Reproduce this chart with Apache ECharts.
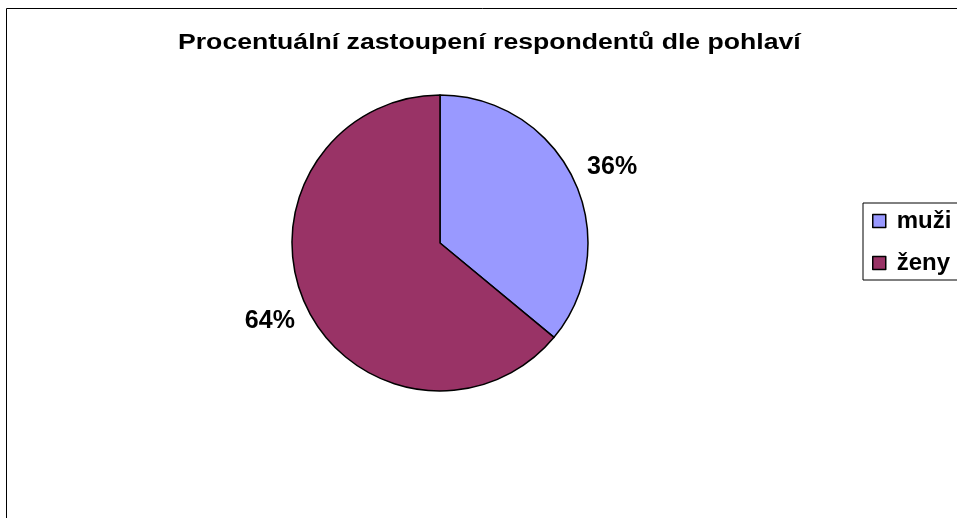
<!DOCTYPE html>
<html>
<head>
<meta charset="utf-8">
<script src="https://cdn.jsdelivr.net/npm/echarts@6/dist/echarts.min.js"></script>
<style>html,body{margin:0;padding:0;background:#fff;}#c{width:957px;height:518px;}</style>
</head>
<body>
<div id="c"></div>
<script>
const titleText = 'Procentuální zastoupení respondentů dle pohlaví';
const categories = ['muži', 'ženy'];
const values = [36, 64];
const colors = ['#9999FF', '#993366'];
const labelOffsets = [[2, 4], [0, -2]];

const FONT = 'Liberation Sans, Arial, sans-serif';
const data = categories.map((n, i) => ({ name: n, value: values[i], itemStyle: { color: colors[i] } }));
const chart = echarts.init(document.getElementById('c'), null, { renderer: 'canvas' });
chart.setOption({
  backgroundColor: '#fff',
  animation: false,
  graphic: [{
    type: 'rect', z: -1,
    shape: { x: 6.5, y: 8.5, width: 1200, height: 800 },
    style: { fill: 'none', stroke: '#000', lineWidth: 1 }
  }, {
    type: 'text', x: 178, y: 43, scaleX: 1.21, originX: 0, originY: 0,
    style: { text: titleText, font: 'bold 22px ' + FONT, fill: '#000', textAlign: 'left', textVerticalAlign: 'middle', verticalAlign: 'middle' }
  }],
  legend: {
    orient: 'vertical', left: 863, top: 203,
    data: categories,
    borderColor: '#000', borderWidth: 1, backgroundColor: '#fff',
    padding: [6, 80, 5, 9],
    itemGap: 18, itemWidth: 13, itemHeight: 13, icon: 'rect',
    itemStyle: { borderColor: '#000', borderWidth: 1.5 },
    textStyle: { fontFamily: FONT, fontWeight: 'bold', fontSize: 24, color: '#000', padding: [0, 0, 0, 6] }
  },
  series: [{
    type: 'pie', center: [440, 243], radius: [0, 148],
    startAngle: 90, clockwise: true,
    data: data,
    itemStyle: { borderColor: '#000', borderWidth: 1.5 },
    label: { show: false }, labelLine: { show: false },
    silent: true
  }, {
    type: 'pie', center: [440, 243], radius: [0, 370],
    startAngle: 90, clockwise: true,
    data: categories.map((n, i) => ({ name: n, value: values[i], label: { offset: labelOffsets[i] } })),
    itemStyle: { color: 'rgba(0,0,0,0)', borderWidth: 0 },
    label: { show: true, position: 'inside', formatter: '{d}%', fontFamily: FONT, fontWeight: 'bold', fontSize: 25, color: '#000' },
    labelLine: { show: false },
    silent: true, z: 3
  }]
});
</script>
</body>
</html>
